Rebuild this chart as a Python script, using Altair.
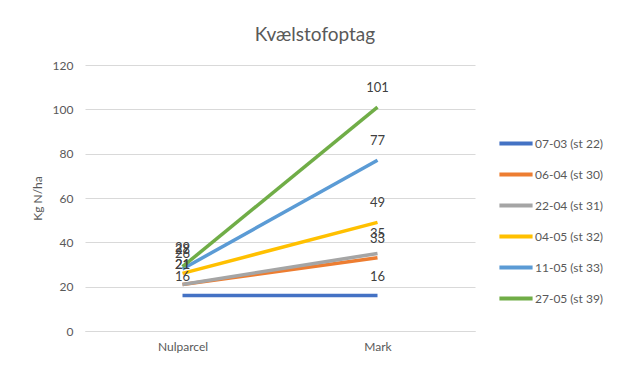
import altair as alt
import pandas as pd

categories = ["Nulparcel", "Mark"]
series = ["07-03 (st 22)", "06-04 (st 30)", "22-04 (st 31)", "04-05 (st 32)", "11-05 (st 33)", "27-05 (st 39)"]
nulparcel = [16, 21, 21, 26, 28, 29]
mark = [16, 33, 35, 49, 77, 101]
colors = ["#4472C4", "#ED7D31", "#A5A5A5", "#FFC000", "#5B9BD5", "#70AD47"]

rows = []
for i, s in enumerate(series):
    rows.append({"cat": categories[0], "serie": s, "val": nulparcel[i], "order": i})
    rows.append({"cat": categories[1], "serie": s, "val": mark[i], "order": i})
df = pd.DataFrame(rows)

FONT = "Lato"

x = alt.X("cat:N", sort=categories, title=None,
          scale=alt.Scale(type="point", padding=0.5),
          axis=alt.Axis(labelAngle=0, labelFontSize=12, labelColor="#595959",
                        domainColor="#D9D9D9", ticks=False, labelPadding=10, grid=False))
y = alt.Y("val:Q", title="Kg N/ha",
          scale=alt.Scale(domain=[0, 120]),
          axis=alt.Axis(values=[0, 20, 40, 60, 80, 100, 120], labelFontSize=12,
                        labelColor="#595959", domain=False, ticks=False, labelPadding=12,
                        gridColor="#D9D9D9", titleFontSize=12, titleColor="#595959",
                        titleFontWeight="normal", titlePadding=8))
color = alt.Color("serie:N", sort=series,
                  scale=alt.Scale(domain=series, range=colors),
                  legend=alt.Legend(title=None, orient="none", legendX=412, legendY=71,
                                    symbolType="stroke", symbolSize=1100, symbolStrokeWidth=4,
                                    labelFontSize=12, labelColor="#595959", rowPadding=16,
                                    clipHeight=15, labelOffset=0))

base = alt.Chart(df)
lines = base.mark_line(strokeWidth=3.5).encode(x=x, y=y, color=color, detail="serie:N", order="order:Q")
labels = base.mark_text(dy=-19, fontSize=13, color="#404040", font=FONT).encode(
    x=alt.X("cat:N", sort=categories), y="val:Q", text="val:Q")

chart = alt.layer(lines, labels).properties(
    width=390, height=266,
    autosize=alt.AutoSizeParams(type="none"),
    padding={"left": 77, "top": 57, "right": 148, "bottom": 35},
    title=alt.TitleParams("Kvælstofoptag", fontSize=19, font=FONT, color="#595959",
                          fontWeight="normal", anchor="middle", dx=35, offset=14),
).configure(font=FONT).configure_view(stroke=None)

chart.save("out.html", embed_options={"renderer": "svg", "actions": False})
